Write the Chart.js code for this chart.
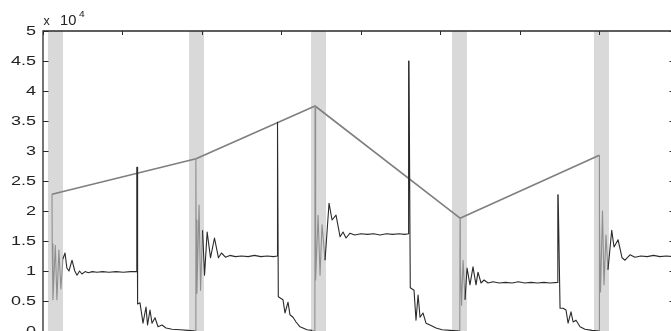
<!DOCTYPE html>
<html>
<head>
<meta charset="utf-8">
<script src="https://cdn.jsdelivr.net/npm/chart.js@4.4.1/dist/chart.umd.min.js"></script>
<style>
  html, body { margin: 0; padding: 0; background: #fff; }
  #wrap { width: 671px; height: 331px; overflow: hidden; position: relative; }
  canvas { display: block; }
</style>
</head>
<body>
<div id="wrap"><canvas id="c" width="680" height="340"></canvas></div>
<script>
// Switching intervals (shaded), in x units
const bandStart = [6.3, 183.7, 337.1, 514.5, 693.1];
const bandEnd   = [25.2, 202.5, 356.0, 533.3, 711.9];

// Peak envelope joining the switching instants
const envelopeX = [11.3, 192.5, 342.2, 524.6, 699.8];
const envelopeY = [22800, 28700, 37500, 18800, 29300];

// Measured response
const signalX = [
  11.3, 11.6, 12.5, 15.5, 17.5, 20.0, 22.5, 25.0, 27.7, 30.0, 32.7, 36.5, 40.0, 42.8, 46.0, 49.0,
  53.0, 57.0, 62.0, 68.0, 75.0, 83.0, 92.0, 101.0, 110.0, 117.9, 118.0, 118.3, 119.0,
  122.0, 125.8, 129.6, 131.5, 134.6, 137.1, 140.9, 144.7, 149.7, 154.7, 162.3, 172.3, 182.4, 192.0,
  192.3, 192.6, 193.6, 196.3, 198.2, 200.7, 203.2, 206.5, 210.7, 215.7, 220.7, 224.5, 229.5,
  235.0, 242.0, 250.0, 258.0, 266.0, 274.0, 282.0, 290.0, 294.7, 294.8, 295.2, 296.0,
  301.9, 304.4, 308.2, 310.7, 314.5, 318.3, 323.3, 327.0, 332.0, 338.4, 342.0,
  342.2, 342.5, 343.4, 346.0, 348.5, 351.0, 354.8, 359.8, 363.6, 368.6, 373.7, 377.4, 381.2, 386.2,
  392.0, 400.0, 408.0, 416.0, 424.0, 432.0, 440.0, 448.0, 455.0, 459.8, 459.9, 460.4, 462.0,
  466.7, 469.2, 471.8, 474.3, 478.0, 481.8, 486.8, 494.4, 502.0, 512.0, 524.3,
  524.6, 524.9, 526.5, 528.4, 530.9, 533.4, 537.1, 540.9, 544.7, 547.2, 551.0, 554.8, 559.8,
  566.0, 574.0, 582.0, 590.0, 598.0, 606.0, 614.0, 622.0, 630.0, 638.0, 647.5, 647.6, 648.0, 650.4,
  654.2, 657.9, 660.5, 664.2, 666.8, 670.5, 675.6, 681.8, 690.6, 699.5,
  699.8, 700.1, 701.3, 703.8, 705.7, 708.2, 710.7, 715.4, 718.3, 723.4, 728.4, 732.1, 738.4, 744.7,
  752.0, 760.0, 768.0, 776.0, 784.0, 792.0
];
const signalY = [
  22800, 14500, 5200, 14300, 5200, 13500, 7000, 12000, 13000, 10500, 10000, 11800, 10000, 9300, 10000, 9500,
  9900, 9700, 9900, 9800, 9900, 9800, 9900, 9800, 9900, 9900, 27300, 27300, 4500,
  4700, 1300, 4000, 1000, 3500, 1300, 2200, 700, 1000, 500, 300, 200, 100, 0,
  28700, 18500, 6300, 21000, 6800, 16800, 9300, 16500, 12200, 15500, 12200, 13000, 12300,
  12600, 12400, 12500, 12400, 12600, 12400, 12500, 12400, 12500, 34800, 34800, 5700,
  5200, 3000, 4800, 2700, 2300, 1500, 700, 500, 200, 100, 0,
  37500, 23000, 8500, 19300, 9300, 17700, 11800, 21300, 18500, 19300, 15700, 16500, 15500, 16300,
  16000, 16200, 16100, 16200, 16000, 16200, 16100, 16200, 16100, 16200, 45000, 45000, 7200,
  6800, 1800, 6000, 2300, 3000, 1300, 1000, 500, 200, 100, 0,
  18800, 11300, 4300, 11800, 5200, 10500, 7700, 10700, 7700, 9800, 8000, 8500, 8000,
  8200, 8000, 8100, 8000, 8200, 8000, 8100, 8000, 8100, 8000, 8100, 22700, 22700, 3800,
  3800, 3500, 1300, 3200, 1500, 1800, 700, 300, 100, 0,
  29300, 18500, 6500, 20000, 7700, 16000, 10200, 16800, 14000, 15200, 12200, 11800, 12700, 12300,
  12500, 12400, 12600, 12400, 12500, 12400
];

// Axis ticks
const xTickValues = [0, 100, 200, 300, 400, 500, 600, 700];
const yTickValues = [0, 5000, 10000, 15000, 20000, 25000, 30000, 35000, 40000, 45000, 50000];
const yTickLabels = ['0', '0.5', '1', '1.5', '2', '2.5', '3', '3.5', '4', '4.5', '5'];
const yExponentBase = '10';
const yExponentPower = '4';

const inBand = x => bandStart.some((s, i) => x >= s && x <= bandEnd[i]);

const shadePlugin = {
  id: 'shade',
  beforeDatasetsDraw(chart) {
    const { ctx, chartArea, scales } = chart;
    ctx.save();
    ctx.fillStyle = '#d9d9d9';
    bandStart.forEach((s, i) => {
      const x0 = scales.x.getPixelForValue(s);
      const x1 = scales.x.getPixelForValue(bandEnd[i]);
      ctx.fillRect(x0, chartArea.top, x1 - x0, chartArea.bottom - chartArea.top);
    });
    ctx.restore();
  }
};

const framePlugin = {
  id: 'frame',
  afterDraw(chart) {
    const { ctx, chartArea, scales } = chart;
    const { left, right, top, bottom } = chartArea;
    ctx.save();
    ctx.strokeStyle = '#2a2a2a';
    ctx.lineWidth = 1.3;
    ctx.beginPath();
    ctx.moveTo(left, bottom);
    ctx.lineTo(left, top);
    ctx.lineTo(right, top);
    ctx.lineTo(right, bottom);
    ctx.stroke();

    ctx.lineWidth = 1;
    ctx.beginPath();
    xTickValues.forEach(v => {
      const x = Math.round(scales.x.getPixelForValue(v)) + 0.5;
      ctx.moveTo(x, top);
      ctx.lineTo(x, top + 4);
    });
    yTickValues.forEach(v => {
      const y = Math.round(scales.y.getPixelForValue(v)) + 0.5;
      ctx.moveTo(left, y);
      ctx.lineTo(left + 5.5, y);
      ctx.moveTo(right, y);
      ctx.lineTo(right - 5.5, y);
    });
    ctx.stroke();

    // tick labels (wide face)
    ctx.fillStyle = '#222';
    ctx.font = '12px "Liberation Sans", Arial, sans-serif';
    ctx.textAlign = 'right';
    ctx.textBaseline = 'alphabetic';
    yTickValues.forEach((v, i) => {
      const y = scales.y.getPixelForValue(v);
      ctx.save();
      ctx.translate(36, y + 4.3);
      ctx.scale(1.5, 1);
      ctx.fillText(yTickLabels[i], 0, 0);
      ctx.restore();
    });

    // axis multiplier
    ctx.textAlign = 'left';
    ctx.font = '12.5px "Liberation Sans", Arial, sans-serif';
    ctx.fillText('x', 43.5, 25);
    ctx.font = '14px "Liberation Sans", Arial, sans-serif';
    ctx.save();
    ctx.translate(60, 25);
    ctx.scale(1.05, 1);
    ctx.fillText(yExponentBase, 0, 0);
    ctx.restore();
    ctx.font = '8.5px "Liberation Sans", Arial, sans-serif';
    ctx.save();
    ctx.translate(79, 17);
    ctx.scale(1.2, 1);
    ctx.fillText(yExponentPower, 0, 0);
    ctx.restore();
    ctx.restore();
  }
};

new Chart(document.getElementById('c'), {
  type: 'line',
  data: {
    datasets: [
      {
        label: 'response',
        data: signalX.map((x, i) => ({ x, y: signalY[i] })),
        borderColor: '#2b2b2b',
        borderWidth: 1.1,
        borderJoinStyle: 'round',
        pointRadius: 0,
        tension: 0,
        order: 0,
        segment: {
          borderColor: c => (inBand(c.p0.parsed.x) && inBand(c.p1.parsed.x)) ? '#8f8f8f' : '#2b2b2b'
        }
      },
      {
        label: 'envelope',
        data: envelopeX.map((x, i) => ({ x, y: envelopeY[i] })),
        borderColor: '#7f7f7f',
        borderWidth: 1.6,
        borderJoinStyle: 'round',
        pointRadius: 0,
        tension: 0,
        order: 1
      }
    ]
  },
  options: {
    responsive: false,
    animation: false,
    devicePixelRatio: 1,
    layout: { padding: { left: 43, top: 31, right: 5, bottom: 9 } },
    plugins: { legend: { display: false }, tooltip: { enabled: false } },
    scales: {
      x: { type: 'linear', min: 0, max: 795, display: false },
      y: { type: 'linear', min: 0, max: 50000, display: false }
    }
  },
  plugins: [shadePlugin, framePlugin]
});
</script>
</body>
</html>
